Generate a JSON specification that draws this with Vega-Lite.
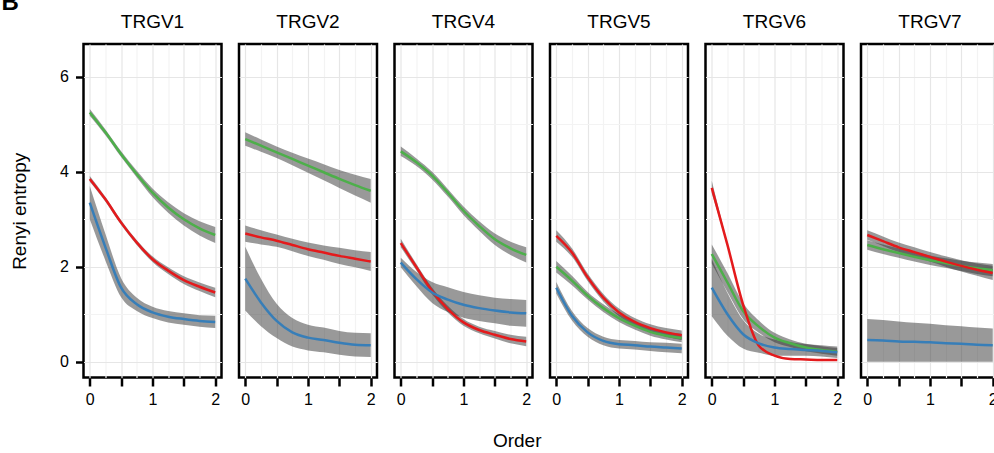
{
"$schema": "https://vega.github.io/schema/vega-lite/v6.json",
"padding": {"left": 1.5, "top": -9, "right": 0, "bottom": 0},
"background": "white",
"bounds": "flush",
"title": {"text": "B", "anchor": "start", "frame": "bounds", "fontSize": 24, "fontWeight": "bold", "font": "Liberation Sans", "color": "black", "dx": -9, "offset": -2},
"datasets": {"d": [
{"gene":"TRGV1","grp":"A","order":0,"ent":5.25,"lo":5.18,"hi":5.32},
{"gene":"TRGV1","grp":"A","order":0.25,"ent":4.83,"lo":4.77,"hi":4.89},
{"gene":"TRGV1","grp":"A","order":0.5,"ent":4.37,"lo":4.31,"hi":4.43},
{"gene":"TRGV1","grp":"A","order":0.75,"ent":3.95,"lo":3.88,"hi":4.02},
{"gene":"TRGV1","grp":"A","order":1,"ent":3.56,"lo":3.47,"hi":3.65},
{"gene":"TRGV1","grp":"A","order":1.25,"ent":3.25,"lo":3.14,"hi":3.36},
{"gene":"TRGV1","grp":"A","order":1.5,"ent":3.00,"lo":2.87,"hi":3.13},
{"gene":"TRGV1","grp":"A","order":1.75,"ent":2.81,"lo":2.66,"hi":2.96},
{"gene":"TRGV1","grp":"A","order":2,"ent":2.67,"lo":2.50,"hi":2.84},
{"gene":"TRGV1","grp":"B","order":0,"ent":3.85,"lo":3.79,"hi":3.91},
{"gene":"TRGV1","grp":"B","order":0.25,"ent":3.42,"lo":3.37,"hi":3.47},
{"gene":"TRGV1","grp":"B","order":0.5,"ent":2.93,"lo":2.88,"hi":2.98},
{"gene":"TRGV1","grp":"B","order":0.75,"ent":2.51,"lo":2.46,"hi":2.56},
{"gene":"TRGV1","grp":"B","order":1,"ent":2.16,"lo":2.10,"hi":2.22},
{"gene":"TRGV1","grp":"B","order":1.25,"ent":1.92,"lo":1.85,"hi":1.99},
{"gene":"TRGV1","grp":"B","order":1.5,"ent":1.72,"lo":1.64,"hi":1.80},
{"gene":"TRGV1","grp":"B","order":1.75,"ent":1.58,"lo":1.49,"hi":1.67},
{"gene":"TRGV1","grp":"B","order":2,"ent":1.46,"lo":1.36,"hi":1.56},
{"gene":"TRGV1","grp":"C","order":0,"ent":3.35,"lo":3.00,"hi":3.70},
{"gene":"TRGV1","grp":"C","order":0.25,"ent":2.41,"lo":2.13,"hi":2.69},
{"gene":"TRGV1","grp":"C","order":0.5,"ent":1.56,"lo":1.36,"hi":1.76},
{"gene":"TRGV1","grp":"C","order":0.75,"ent":1.21,"lo":1.07,"hi":1.35},
{"gene":"TRGV1","grp":"C","order":1,"ent":1.04,"lo":0.92,"hi":1.16},
{"gene":"TRGV1","grp":"C","order":1.25,"ent":0.95,"lo":0.83,"hi":1.07},
{"gene":"TRGV1","grp":"C","order":1.5,"ent":0.90,"lo":0.78,"hi":1.02},
{"gene":"TRGV1","grp":"C","order":1.75,"ent":0.86,"lo":0.74,"hi":0.98},
{"gene":"TRGV1","grp":"C","order":2,"ent":0.84,"lo":0.71,"hi":0.97},
{"gene":"TRGV2","grp":"A","order":0,"ent":4.69,"lo":4.55,"hi":4.83},
{"gene":"TRGV2","grp":"A","order":0.25,"ent":4.55,"lo":4.42,"hi":4.68},
{"gene":"TRGV2","grp":"A","order":0.5,"ent":4.41,"lo":4.29,"hi":4.53},
{"gene":"TRGV2","grp":"A","order":0.75,"ent":4.27,"lo":4.14,"hi":4.40},
{"gene":"TRGV2","grp":"A","order":1,"ent":4.13,"lo":3.98,"hi":4.28},
{"gene":"TRGV2","grp":"A","order":1.25,"ent":3.99,"lo":3.82,"hi":4.16},
{"gene":"TRGV2","grp":"A","order":1.5,"ent":3.85,"lo":3.66,"hi":4.04},
{"gene":"TRGV2","grp":"A","order":1.75,"ent":3.72,"lo":3.50,"hi":3.94},
{"gene":"TRGV2","grp":"A","order":2,"ent":3.60,"lo":3.35,"hi":3.85},
{"gene":"TRGV2","grp":"B","order":0,"ent":2.70,"lo":2.53,"hi":2.87},
{"gene":"TRGV2","grp":"B","order":0.25,"ent":2.62,"lo":2.47,"hi":2.77},
{"gene":"TRGV2","grp":"B","order":0.5,"ent":2.55,"lo":2.42,"hi":2.68},
{"gene":"TRGV2","grp":"B","order":0.75,"ent":2.46,"lo":2.33,"hi":2.59},
{"gene":"TRGV2","grp":"B","order":1,"ent":2.37,"lo":2.23,"hi":2.51},
{"gene":"TRGV2","grp":"B","order":1.25,"ent":2.30,"lo":2.15,"hi":2.45},
{"gene":"TRGV2","grp":"B","order":1.5,"ent":2.23,"lo":2.06,"hi":2.40},
{"gene":"TRGV2","grp":"B","order":1.75,"ent":2.17,"lo":1.99,"hi":2.35},
{"gene":"TRGV2","grp":"B","order":2,"ent":2.11,"lo":1.91,"hi":2.31},
{"gene":"TRGV2","grp":"C","order":0,"ent":1.75,"lo":1.08,"hi":2.42},
{"gene":"TRGV2","grp":"C","order":0.25,"ent":1.25,"lo":0.75,"hi":1.75},
{"gene":"TRGV2","grp":"C","order":0.5,"ent":0.86,"lo":0.50,"hi":1.22},
{"gene":"TRGV2","grp":"C","order":0.75,"ent":0.62,"lo":0.32,"hi":0.92},
{"gene":"TRGV2","grp":"C","order":1,"ent":0.51,"lo":0.24,"hi":0.78},
{"gene":"TRGV2","grp":"C","order":1.25,"ent":0.46,"lo":0.20,"hi":0.72},
{"gene":"TRGV2","grp":"C","order":1.5,"ent":0.40,"lo":0.15,"hi":0.65},
{"gene":"TRGV2","grp":"C","order":1.75,"ent":0.36,"lo":0.11,"hi":0.61},
{"gene":"TRGV2","grp":"C","order":2,"ent":0.35,"lo":0.10,"hi":0.60},
{"gene":"TRGV4","grp":"A","order":0,"ent":4.43,"lo":4.33,"hi":4.53},
{"gene":"TRGV4","grp":"A","order":0.25,"ent":4.20,"lo":4.12,"hi":4.28},
{"gene":"TRGV4","grp":"A","order":0.5,"ent":3.92,"lo":3.84,"hi":4.00},
{"gene":"TRGV4","grp":"A","order":0.75,"ent":3.56,"lo":3.48,"hi":3.64},
{"gene":"TRGV4","grp":"A","order":1,"ent":3.18,"lo":3.09,"hi":3.27},
{"gene":"TRGV4","grp":"A","order":1.25,"ent":2.86,"lo":2.76,"hi":2.96},
{"gene":"TRGV4","grp":"A","order":1.5,"ent":2.58,"lo":2.46,"hi":2.70},
{"gene":"TRGV4","grp":"A","order":1.75,"ent":2.39,"lo":2.25,"hi":2.53},
{"gene":"TRGV4","grp":"A","order":2,"ent":2.25,"lo":2.09,"hi":2.41},
{"gene":"TRGV4","grp":"B","order":0,"ent":2.50,"lo":2.41,"hi":2.59},
{"gene":"TRGV4","grp":"B","order":0.25,"ent":1.99,"lo":1.92,"hi":2.06},
{"gene":"TRGV4","grp":"B","order":0.5,"ent":1.49,"lo":1.42,"hi":1.56},
{"gene":"TRGV4","grp":"B","order":0.75,"ent":1.11,"lo":1.04,"hi":1.18},
{"gene":"TRGV4","grp":"B","order":1,"ent":0.83,"lo":0.76,"hi":0.90},
{"gene":"TRGV4","grp":"B","order":1.25,"ent":0.67,"lo":0.60,"hi":0.74},
{"gene":"TRGV4","grp":"B","order":1.5,"ent":0.57,"lo":0.49,"hi":0.65},
{"gene":"TRGV4","grp":"B","order":1.75,"ent":0.48,"lo":0.39,"hi":0.57},
{"gene":"TRGV4","grp":"B","order":2,"ent":0.43,"lo":0.33,"hi":0.53},
{"gene":"TRGV4","grp":"C","order":0,"ent":2.09,"lo":1.99,"hi":2.19},
{"gene":"TRGV4","grp":"C","order":0.25,"ent":1.74,"lo":1.59,"hi":1.89},
{"gene":"TRGV4","grp":"C","order":0.5,"ent":1.46,"lo":1.24,"hi":1.68},
{"gene":"TRGV4","grp":"C","order":0.75,"ent":1.31,"lo":1.05,"hi":1.57},
{"gene":"TRGV4","grp":"C","order":1,"ent":1.20,"lo":0.93,"hi":1.47},
{"gene":"TRGV4","grp":"C","order":1.25,"ent":1.13,"lo":0.86,"hi":1.40},
{"gene":"TRGV4","grp":"C","order":1.5,"ent":1.08,"lo":0.81,"hi":1.35},
{"gene":"TRGV4","grp":"C","order":1.75,"ent":1.04,"lo":0.76,"hi":1.32},
{"gene":"TRGV4","grp":"C","order":2,"ent":1.02,"lo":0.74,"hi":1.30},
{"gene":"TRGV5","grp":"A","order":0,"ent":2.00,"lo":1.88,"hi":2.12},
{"gene":"TRGV5","grp":"A","order":0.25,"ent":1.71,"lo":1.61,"hi":1.81},
{"gene":"TRGV5","grp":"A","order":0.5,"ent":1.39,"lo":1.31,"hi":1.47},
{"gene":"TRGV5","grp":"A","order":0.75,"ent":1.13,"lo":1.05,"hi":1.21},
{"gene":"TRGV5","grp":"A","order":1,"ent":0.92,"lo":0.84,"hi":1.00},
{"gene":"TRGV5","grp":"A","order":1.25,"ent":0.76,"lo":0.68,"hi":0.84},
{"gene":"TRGV5","grp":"A","order":1.5,"ent":0.63,"lo":0.55,"hi":0.71},
{"gene":"TRGV5","grp":"A","order":1.75,"ent":0.55,"lo":0.47,"hi":0.63},
{"gene":"TRGV5","grp":"A","order":2,"ent":0.50,"lo":0.41,"hi":0.59},
{"gene":"TRGV5","grp":"B","order":0,"ent":2.65,"lo":2.53,"hi":2.77},
{"gene":"TRGV5","grp":"B","order":0.25,"ent":2.30,"lo":2.21,"hi":2.39},
{"gene":"TRGV5","grp":"B","order":0.5,"ent":1.78,"lo":1.70,"hi":1.86},
{"gene":"TRGV5","grp":"B","order":0.75,"ent":1.35,"lo":1.27,"hi":1.43},
{"gene":"TRGV5","grp":"B","order":1,"ent":1.04,"lo":0.96,"hi":1.12},
{"gene":"TRGV5","grp":"B","order":1.25,"ent":0.84,"lo":0.76,"hi":0.92},
{"gene":"TRGV5","grp":"B","order":1.5,"ent":0.71,"lo":0.63,"hi":0.79},
{"gene":"TRGV5","grp":"B","order":1.75,"ent":0.62,"lo":0.53,"hi":0.71},
{"gene":"TRGV5","grp":"B","order":2,"ent":0.56,"lo":0.46,"hi":0.66},
{"gene":"TRGV5","grp":"C","order":0,"ent":1.56,"lo":1.44,"hi":1.68},
{"gene":"TRGV5","grp":"C","order":0.25,"ent":0.97,"lo":0.87,"hi":1.07},
{"gene":"TRGV5","grp":"C","order":0.5,"ent":0.62,"lo":0.53,"hi":0.71},
{"gene":"TRGV5","grp":"C","order":0.75,"ent":0.44,"lo":0.35,"hi":0.53},
{"gene":"TRGV5","grp":"C","order":1,"ent":0.37,"lo":0.28,"hi":0.46},
{"gene":"TRGV5","grp":"C","order":1.25,"ent":0.35,"lo":0.26,"hi":0.44},
{"gene":"TRGV5","grp":"C","order":1.5,"ent":0.32,"lo":0.23,"hi":0.41},
{"gene":"TRGV5","grp":"C","order":1.75,"ent":0.30,"lo":0.20,"hi":0.40},
{"gene":"TRGV5","grp":"C","order":2,"ent":0.28,"lo":0.18,"hi":0.38},
{"gene":"TRGV6","grp":"A","order":0,"ent":2.27,"lo":2.07,"hi":2.47},
{"gene":"TRGV6","grp":"A","order":0.25,"ent":1.67,"lo":1.47,"hi":1.87},
{"gene":"TRGV6","grp":"A","order":0.5,"ent":1.07,"lo":0.90,"hi":1.24},
{"gene":"TRGV6","grp":"A","order":0.75,"ent":0.74,"lo":0.61,"hi":0.87},
{"gene":"TRGV6","grp":"A","order":1,"ent":0.51,"lo":0.41,"hi":0.61},
{"gene":"TRGV6","grp":"A","order":1.25,"ent":0.39,"lo":0.31,"hi":0.47},
{"gene":"TRGV6","grp":"A","order":1.5,"ent":0.30,"lo":0.22,"hi":0.38},
{"gene":"TRGV6","grp":"A","order":1.75,"ent":0.25,"lo":0.17,"hi":0.33},
{"gene":"TRGV6","grp":"A","order":2,"ent":0.21,"lo":0.13,"hi":0.29},
{"gene":"TRGV6","grp":"B","order":0,"ent":3.66,"lo":3.55,"hi":3.81},
{"gene":"TRGV6","grp":"B","order":0.25,"ent":2.46,"lo":2.43,"hi":2.49},
{"gene":"TRGV6","grp":"B","order":0.5,"ent":1.20,"lo":1.18,"hi":1.22},
{"gene":"TRGV6","grp":"B","order":0.75,"ent":0.34,"lo":0.32,"hi":0.36},
{"gene":"TRGV6","grp":"B","order":1,"ent":0.13,"lo":0.12,"hi":0.14},
{"gene":"TRGV6","grp":"B","order":1.25,"ent":0.06,"lo":0.05,"hi":0.07},
{"gene":"TRGV6","grp":"B","order":1.5,"ent":0.05,"lo":0.04,"hi":0.06},
{"gene":"TRGV6","grp":"B","order":1.75,"ent":0.04,"lo":0.03,"hi":0.05},
{"gene":"TRGV6","grp":"B","order":2,"ent":0.04,"lo":0.03,"hi":0.05},
{"gene":"TRGV6","grp":"C","order":0,"ent":1.56,"lo":0.96,"hi":2.16},
{"gene":"TRGV6","grp":"C","order":0.25,"ent":1.00,"lo":0.55,"hi":1.45},
{"gene":"TRGV6","grp":"C","order":0.5,"ent":0.58,"lo":0.28,"hi":0.88},
{"gene":"TRGV6","grp":"C","order":0.75,"ent":0.39,"lo":0.19,"hi":0.59},
{"gene":"TRGV6","grp":"C","order":1,"ent":0.30,"lo":0.13,"hi":0.47},
{"gene":"TRGV6","grp":"C","order":1.25,"ent":0.27,"lo":0.13,"hi":0.41},
{"gene":"TRGV6","grp":"C","order":1.5,"ent":0.25,"lo":0.13,"hi":0.37},
{"gene":"TRGV6","grp":"C","order":1.75,"ent":0.23,"lo":0.11,"hi":0.35},
{"gene":"TRGV6","grp":"C","order":2,"ent":0.20,"lo":0.08,"hi":0.32},
{"gene":"TRGV7","grp":"A","order":0,"ent":2.46,"lo":2.36,"hi":2.56},
{"gene":"TRGV7","grp":"A","order":0.25,"ent":2.37,"lo":2.27,"hi":2.47},
{"gene":"TRGV7","grp":"A","order":0.5,"ent":2.29,"lo":2.19,"hi":2.39},
{"gene":"TRGV7","grp":"A","order":0.75,"ent":2.21,"lo":2.11,"hi":2.31},
{"gene":"TRGV7","grp":"A","order":1,"ent":2.14,"lo":2.04,"hi":2.24},
{"gene":"TRGV7","grp":"A","order":1.25,"ent":2.08,"lo":1.98,"hi":2.18},
{"gene":"TRGV7","grp":"A","order":1.5,"ent":2.02,"lo":1.91,"hi":2.13},
{"gene":"TRGV7","grp":"A","order":1.75,"ent":1.97,"lo":1.85,"hi":2.09},
{"gene":"TRGV7","grp":"A","order":2,"ent":1.93,"lo":1.80,"hi":2.06},
{"gene":"TRGV7","grp":"B","order":0,"ent":2.67,"lo":2.57,"hi":2.77},
{"gene":"TRGV7","grp":"B","order":0.25,"ent":2.54,"lo":2.44,"hi":2.64},
{"gene":"TRGV7","grp":"B","order":0.5,"ent":2.41,"lo":2.31,"hi":2.51},
{"gene":"TRGV7","grp":"B","order":0.75,"ent":2.31,"lo":2.21,"hi":2.41},
{"gene":"TRGV7","grp":"B","order":1,"ent":2.21,"lo":2.11,"hi":2.31},
{"gene":"TRGV7","grp":"B","order":1.25,"ent":2.11,"lo":2.00,"hi":2.22},
{"gene":"TRGV7","grp":"B","order":1.5,"ent":2.02,"lo":1.90,"hi":2.14},
{"gene":"TRGV7","grp":"B","order":1.75,"ent":1.94,"lo":1.81,"hi":2.07},
{"gene":"TRGV7","grp":"B","order":2,"ent":1.87,"lo":1.72,"hi":2.02},
{"gene":"TRGV7","grp":"C","order":0,"ent":0.46,"lo":0.0,"hi":0.90},
{"gene":"TRGV7","grp":"C","order":0.25,"ent":0.45,"lo":0.0,"hi":0.88},
{"gene":"TRGV7","grp":"C","order":0.5,"ent":0.43,"lo":0.0,"hi":0.85},
{"gene":"TRGV7","grp":"C","order":0.75,"ent":0.42,"lo":0.0,"hi":0.82},
{"gene":"TRGV7","grp":"C","order":1,"ent":0.41,"lo":0.0,"hi":0.80},
{"gene":"TRGV7","grp":"C","order":1.25,"ent":0.39,"lo":0.0,"hi":0.77},
{"gene":"TRGV7","grp":"C","order":1.5,"ent":0.38,"lo":0.0,"hi":0.75},
{"gene":"TRGV7","grp":"C","order":1.75,"ent":0.36,"lo":0.0,"hi":0.72},
{"gene":"TRGV7","grp":"C","order":2,"ent":0.35,"lo":0.0,"hi":0.70}
]},
"data": {"name": "d"},
"facet": {"column": {"field": "gene", "type": "nominal", "title": "Order",
  "header": {"labelFontSize": 19, "labelFont": "Liberation Sans", "labelColor": "black", "labelPadding": 12,
    "labelOrient": "top", "titleOrient": "bottom", "titleFontSize": 19, "titleFont": "Liberation Sans",
    "titleFontWeight": "normal", "titleColor": "black", "titlePadding": 15, "titleAlign": "right"}}},
"spacing": 17.5,
"spec": {
  "width": 138,
  "height": 333.5,
  "encoding": {
    "x": {"field": "order", "type": "quantitative",
      "scale": {"domain": [-0.1, 2.1], "nice": false, "zero": false},
      "axis": {"title": null, "values": [0, 0.25, 0.5, 0.75, 1, 1.25, 1.5, 1.75, 2],
        "labelExpr": "datum.value % 1 === 0 ? '' + datum.value : ''",
        "gridColor": {"condition": {"test": "datum.value % 0.5 !== 0", "value": "#f3f3f3"}, "value": "#e6e6e6"},
        "tickOpacity": {"condition": {"test": "datum.value % 0.5 !== 0", "value": 0}, "value": 1},
        "labelPadding": 5, "labelFlush": false, "labelOverlap": false}}
  },
  "layer": [
    {"mark": {"type": "area", "interpolate": "monotone", "fill": "#333333", "fillOpacity": 0.5},
     "encoding": {
       "y": {"field": "lo", "type": "quantitative",
         "scale": {"domain": [-0.33, 6.69], "nice": false, "zero": false},
         "axis": {"title": "Renyi entropy", "values": [0, 1, 2, 3, 4, 5, 6],
           "labelExpr": "datum.value % 2 === 0 ? '' + datum.value : ''",
           "gridColor": {"condition": {"test": "datum.value % 2 !== 0", "value": "#f3f3f3"}, "value": "#e6e6e6"},
           "tickOpacity": {"condition": {"test": "datum.value % 2 !== 0", "value": 0}, "value": 1},
           "labelPadding": 7, "labelOverlap": false, "titlePadding": 30}},
       "y2": {"field": "hi"},
       "detail": {"field": "grp", "type": "nominal"}
     }},
    {"mark": {"type": "line", "interpolate": "monotone", "strokeWidth": 2.5},
     "encoding": {
       "y": {"field": "ent", "type": "quantitative",
         "axis": {"title": "Renyi entropy", "values": [0, 1, 2, 3, 4, 5, 6],
           "labelExpr": "datum.value % 2 === 0 ? '' + datum.value : ''",
           "gridColor": {"condition": {"test": "datum.value % 2 !== 0", "value": "#f3f3f3"}, "value": "#e6e6e6"},
           "tickOpacity": {"condition": {"test": "datum.value % 2 !== 0", "value": 0}, "value": 1},
           "labelPadding": 7, "labelOverlap": false, "titlePadding": 30}},
       "color": {"field": "grp", "type": "nominal",
         "scale": {"domain": ["A", "B", "C"], "range": ["#4DAF4A", "#E41A1C", "#377EB8"]},
         "legend": null}
     }}
  ]
},
"config": {
  "view": {"stroke": "black", "strokeWidth": 2.5},
  "font": "Liberation Sans",
  "axis": {"domain": false, "tickColor": "black", "tickWidth": 2.5, "tickSize": 8,
    "labelFontSize": 16, "labelColor": "black", "labelFont": "Liberation Sans",
    "titleFontSize": 19, "titleFontWeight": "normal", "titleColor": "black", "titleFont": "Liberation Sans",
    "gridWidth": 1.2}
}
}
